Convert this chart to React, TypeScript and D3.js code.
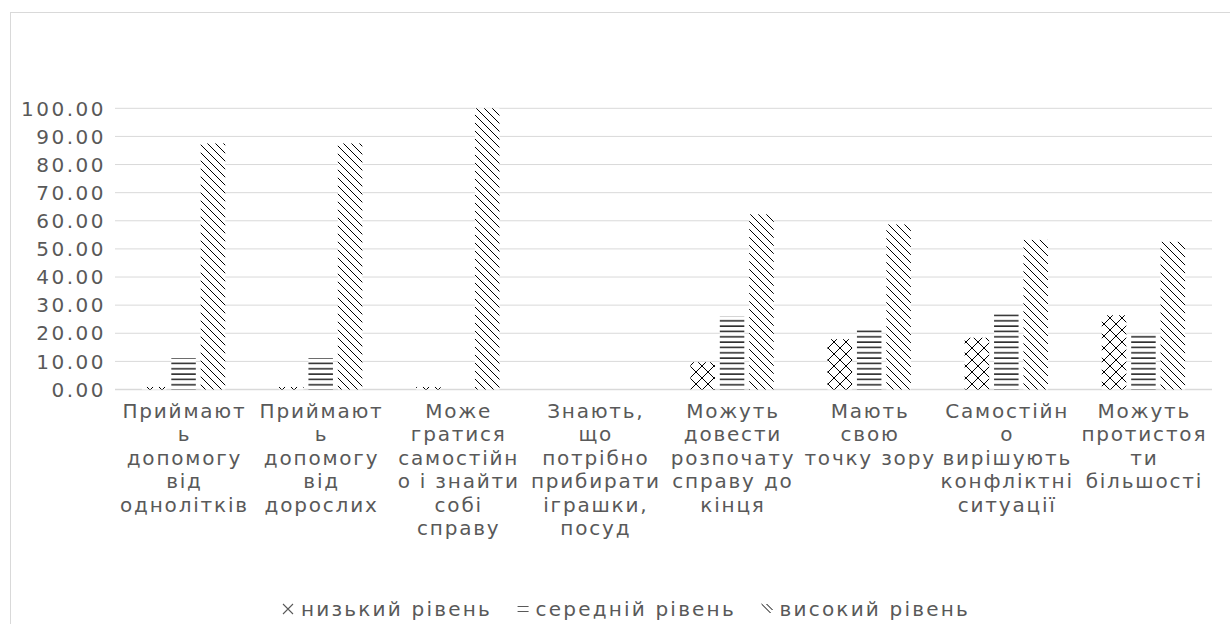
import React from "react";
import * as d3 from "d3";

const categories: string[][] = [
  ["Приймают", "ь", "допомогу", "від", "однолітків"],
  ["Приймают", "ь", "допомогу", "від", "дорослих"],
  ["Може", "гратися", "самостійн", "о і знайти", "собі", "справу"],
  ["Знають,", "що", "потрібно", "прибирати", "іграшки,", "посуд"],
  ["Можуть", "довести", "розпочату", "справу до", "кінця"],
  ["Мають", "свою", "точку зору"],
  ["Самостійн", "о", "вирішують", "конфліктні", "ситуації"],
  ["Можуть", "протистоя", "ти", "більшості"],
];

const lowLevel = [0.9, 0.9, 0.9, 0, 9.7, 17.9, 18.4, 26.4];
const midLevel = [11.1, 11.1, 0, 0, 26.1, 22.0, 26.8, 19.6];
const highLevel = [87.5, 87.5, 100, 0, 62.3, 58.7, 53.2, 52.5];

const seriesNames = ["низький рівень", "середній рівень", "високий рівень"];
const yTicks = [0, 10, 20, 30, 40, 50, 60, 70, 80, 90, 100];

const W = 1230;
const H = 624;
const TEXT = "#595959";
const GRID = "#d9d9d9";
const FONT = "'DejaVu Sans', sans-serif";
const FS = 20;
const LS = 1.8;
const LEG_LS = 2.2;

function measure(s: string, ls: number): number {
  if (typeof document === "undefined") return s.length * 12;
  const c = document.createElement("canvas").getContext("2d");
  if (!c) return s.length * 12;
  c.font = `${FS}px 'DejaVu Sans'`;
  return c.measureText(s).width + ls * s.length;
}

function LegendIcon({ k, x, yc }: { k: number; x: number; yc: number }) {
  if (k === 0)
    return (
      <path
        d={`M${x},${yc - 5}L${x + 10},${yc + 5}M${x + 10},${yc - 5}L${x},${yc + 5}`}
        stroke={TEXT}
        strokeWidth={1.1}
      />
    );
  if (k === 1)
    return (
      <path
        d={`M${x},${yc - 2.5}L${x + 11},${yc - 2.5}M${x},${yc + 2.5}L${x + 11},${yc + 2.5}`}
        stroke={TEXT}
        strokeWidth={1.1}
      />
    );
  return (
    <path
      d={`M${x},${yc - 5}L${x + 9},${yc + 4}M${x + 5},${yc - 5}L${x + 11},${yc + 1}`}
      stroke="#000"
      strokeWidth={1}
    />
  );
}

export default function App() {
  const series = [lowLevel, midLevel, highLevel];
  const x0 = d3
    .scaleBand<number>()
    .domain(d3.range(categories.length))
    .range([115, 1212])
    .paddingInner(0)
    .paddingOuter(0);
  const y = d3.scaleLinear().domain([0, 100]).range([389.5, 108.3]);
  const bw = x0.bandwidth();
  const barW = 24.5;
  const step = 29.4;
  const patterns = ["pLow", "pMid", "pHigh"];

  // legend layout
  const iconW = 11;
  const iconGap = 7;
  const legLeft = 283;
  const legRight = 970;
  const widths = seriesNames.map((s) => iconW + iconGap + measure(s, LEG_LS));
  const entryGap = Math.max(8, (legRight - legLeft - d3.sum(widths)) / (seriesNames.length - 1));
  const total = d3.sum(widths) + entryGap * (seriesNames.length - 1);
  let lx = (legLeft + legRight) / 2 - total / 2;
  const legendItems = widths.map((w, k) => {
    const item = { x: lx, k };
    lx += w + entryGap;
    return item;
  });
  const legendY = 609;

  return (
    <svg
      width={W}
      height={H}
      style={{ position: "absolute", left: 0, top: 0, background: "#fff" }}
      fontFamily={FONT}
    >
      <defs>
        <pattern id="pLow" patternUnits="userSpaceOnUse" width={12} height={12}>
          <rect width={12} height={12} fill="#fff" />
          <path d="M0,0L12,12M12,0L0,12" stroke="#000" strokeWidth={1} />
        </pattern>
        <pattern id="pMid" patternUnits="userSpaceOnUse" width={6} height={5.33}>
          <rect width={6} height={5.33} fill="#fff" />
          <line x1={0} x2={6} y1={1} y2={1} stroke="#000" strokeWidth={1.3} />
        </pattern>
        <pattern id="pHigh" patternUnits="userSpaceOnUse" width={8} height={8}>
          <rect width={8} height={8} fill="#fff" />
          <path d="M0,0L8,8M-2,6L2,10M6,-2L10,2" stroke="#000" strokeWidth={1} />
        </pattern>
      </defs>
      <rect x={0} y={0} width={W} height={H} fill="#fff" />
      <rect x={10.5} y={12.5} width={1300} height={800} fill="none" stroke={GRID} strokeWidth={1} />

      {yTicks.map((t) => (
        <g key={t}>
          <line x1={115} x2={1212} y1={y(t)} y2={y(t)} stroke={GRID} strokeWidth={t === 0 ? 1.5 : 1} />
          <text
            x={106}
            y={y(t)}
            dy="0.36em"
            textAnchor="end"
            fontSize={FS}
            letterSpacing={2.5}
            fill={TEXT}
          >
            {d3.format(".2f")(t)}
          </text>
        </g>
      ))}

      {categories.map((_, i) => {
        const cx = (x0(i) as number) + bw / 2;
        return (
          <g key={i}>
            {series.map((s, k) => {
              const v = s[i];
              if (!v) return null;
              const bx = cx + (k - 1) * step - barW / 2;
              return (
                <rect
                  key={k}
                  x={bx}
                  y={y(v)}
                  width={barW}
                  height={y(0) - y(v)}
                  fill={`url(#${patterns[k]})`}
                />
              );
            })}
          </g>
        );
      })}

      {categories.map((lines, i) => {
        const cx = (x0(i) as number) + bw / 2;
        return (
          <text key={i} textAnchor="middle" fontSize={FS} letterSpacing={LS} fill={TEXT}>
            {lines.map((l, j) => (
              <tspan key={j} x={cx + LS / 2} y={417.5 + j * 23.5}>
                {l}
              </tspan>
            ))}
          </text>
        );
      })}

      <g>
        {legendItems.map(({ x, k }) => (
          <g key={k}>
            <LegendIcon k={k} x={x} yc={legendY} />
            <text
              x={x + iconW + iconGap}
              y={legendY}
              dy="0.36em"
              fontSize={FS}
              letterSpacing={LEG_LS}
              fill={TEXT}
            >
              {seriesNames[k]}
            </text>
          </g>
        ))}
      </g>
    </svg>
  );
}
